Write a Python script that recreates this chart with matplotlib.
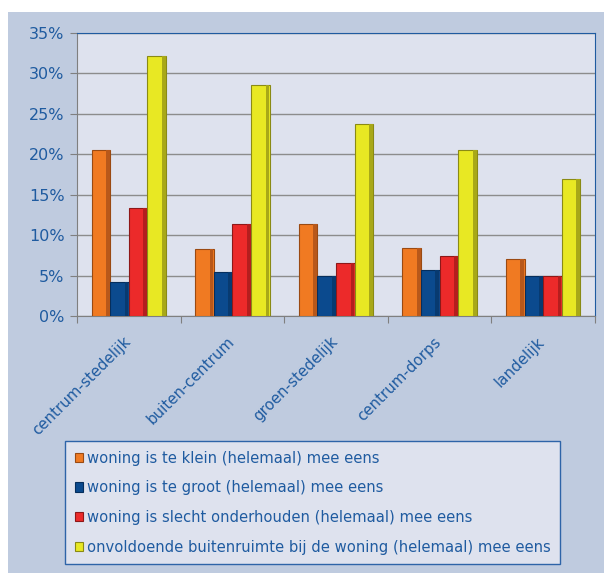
import numpy as np
import matplotlib.pyplot as plt
import matplotlib.transforms as mtransforms
from matplotlib.patches import Rectangle

categories = ["centrum-stedelijk", "buiten-centrum", "groen-stedelijk", "centrum-dorps", "landelijk"]
series_names = ["woning is te klein (helemaal) mee eens",
                "woning is te groot (helemaal) mee eens",
                "woning is slecht onderhouden (helemaal) mee eens",
                "onvoldoende buitenruimte bij de woning (helemaal) mee eens"]
te_klein = [20.5, 8.3, 11.4, 8.4, 7.1]
te_groot = [4.2, 5.4, 4.9, 5.7, 5.0]
slecht_onderhouden = [13.3, 11.4, 6.5, 7.4, 5.0]
buitenruimte = [32.2, 28.6, 23.7, 20.5, 16.9]

colors = ["#F07A22", "#0B4A8E", "#EC2A2A", "#E8E823"]
shades = ["#B8581A", "#083A70", "#B41E1E", "#A8A818"]
edges = ["#9A4A12", "#062E5C", "#8E1818", "#8A8A14"]
text_blue = "#1F5BA0"
outer_bg = "#BFCBDF"
inner_bg = "#DEE2EE"

plt.rcParams['font.family'] = ['DejaVu Sans']

fig = plt.figure(figsize=(6.04, 5.73), dpi=100)
fig.patch.set_facecolor("white")
fig.patches.append(Rectangle((8 / 604, 0), 596 / 604, 561 / 573, transform=fig.transFigure,
                             facecolor=outer_bg, edgecolor="none", zorder=-10))

ax = fig.add_axes([77 / 604, 1 - 316 / 573, 518 / 604, 283 / 573])
ax.set_facecolor(inner_bg)

x = np.arange(len(categories))
w = 0.18
all_series = [te_klein, te_groot, slecht_onderhouden, buitenruimte]
for i, vals in enumerate(all_series):
    pos = x + (i - 1.5) * w
    ax.bar(pos, vals, width=w, color=colors[i], edgecolor=edges[i],
           linewidth=0.8, label=series_names[i], zorder=3)
    # darker right side for a bit of the bevelled look
    ax.bar(pos + w * 0.38, vals, width=w * 0.2, color=shades[i], linewidth=0, zorder=4)

ax.set_xlim(-0.5, len(categories) - 0.5)
ax.set_ylim(0, 35)
ax.set_yticks(np.arange(0, 36, 5))
ax.set_yticklabels([f"{v}%" for v in range(0, 36, 5)], color=text_blue, fontsize=11.5)
ax.yaxis.grid(True, color="#8C8C8C", linewidth=1, zorder=0)
ax.set_axisbelow(True)

ax.set_xticks(np.arange(-0.5, len(categories), 1))
ax.set_xticklabels([])
ax.set_xticks(x, minor=True)
ax.set_xticklabels(categories, minor=True, rotation=45, ha="right", rotation_mode="anchor",
                   color=text_blue, fontsize=10.8)
ax.tick_params(axis="x", which="minor", length=0, pad=13)
ax.tick_params(axis="x", which="major", length=5, color="#7F7F7F")
ax.tick_params(axis="y", length=5, color="#7F7F7F", pad=4)
shift = mtransforms.ScaledTranslation(-0.06, 0, fig.dpi_scale_trans)
for lbl in ax.get_xticklabels(minor=True):
    lbl.set_transform(lbl.get_transform() + shift)

for s in ["left", "bottom"]:
    ax.spines[s].set_color("#7F7F7F")
for s in ["top", "right"]:
    ax.spines[s].set_color("#1F5BA0")

leg = fig.legend(loc="upper left", bbox_to_anchor=(65 / 604, 1 - 441 / 573),
                 bbox_transform=fig.transFigure, fontsize=10.6, frameon=True,
                 fancybox=False, handlelength=0.6, handleheight=0.6, handletextpad=0.25,
                 labelspacing=1.0, borderpad=0.65, borderaxespad=0)
for t in leg.get_texts():
    t.set_color(text_blue)
leg.get_frame().set_facecolor(inner_bg)
leg.get_frame().set_edgecolor("#2E64A8")
leg.get_frame().set_linewidth(1)
leg.get_frame().set_alpha(1)

fig.savefig("out.png", dpi=100)
